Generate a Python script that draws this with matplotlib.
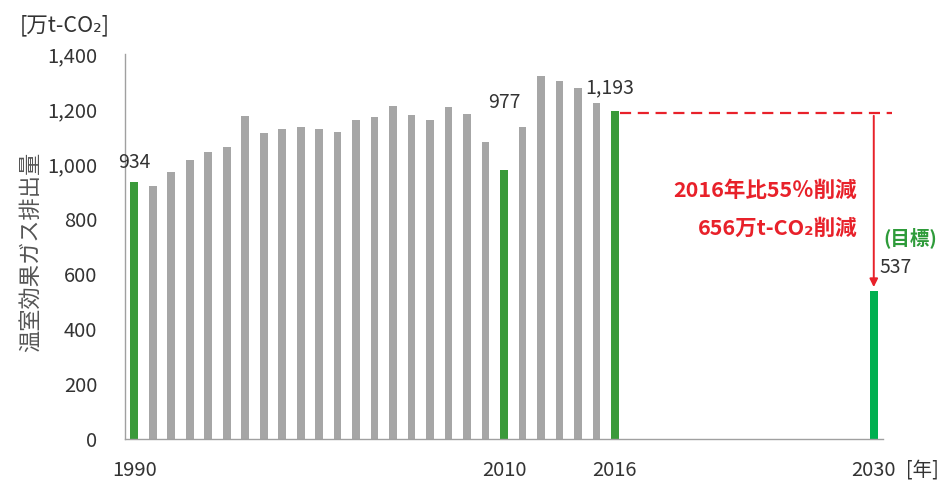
import matplotlib
matplotlib.use('Agg')
import matplotlib.pyplot as plt

plt.rcParams['font.family'] = ['Noto Sans CJK JP', 'DejaVu Sans']

# emissions by year (万t-CO2)
years = list(range(1990, 2017))
emissions = [934, 918, 971, 1013, 1042, 1063, 1173, 1113, 1126, 1133,
             1126, 1116, 1159, 1169, 1212, 1179, 1159, 1207, 1181, 1079,
             977, 1135, 1321, 1303, 1275, 1221, 1193]
highlight_years = [1990, 2010, 2016]
target_year = 2030
target_value = 537
tick_years = [1990, 2010, 2016, 2030]
ytick_values = [0, 200, 400, 600, 800, 1000, 1200, 1400]

fig = plt.figure(figsize=(9.44, 4.82), dpi=100)
ax = fig.add_axes([0.1324, 0.0892, 0.8030, 0.7990])

colors = ['#3A9A3A' if y in highlight_years else '#A6A6A6' for y in years]
ax.bar(years, emissions, width=0.42, color=colors)
ax.bar([target_year], [target_value], width=0.42, color='#00B050')

# value labels
lookup = dict(zip(years, emissions))
ax.text(1990, lookup[1990] + 72, '934', ha='center', va='center', fontsize=14, color='#333333')
ax.text(2010, lookup[2010] + 245, '977', ha='center', va='center', fontsize=14, color='#333333')
ax.text(2015.7, lookup[2016] + 83, '1,193', ha='center', va='center', fontsize=14, color='#333333')
ax.text(2030.3, target_value + 88, '537', ha='left', va='center', fontsize=14, color='#333333')
ax.text(2030.5, target_value + 195, '(目標)', ha='left', va='center', fontsize=14,
        color='#2E9B3A', fontweight='bold')

# reduction annotation
ax.plot([2016.3, 2031.0], [lookup[2016] - 8, lookup[2016] - 8], color='#E8212A',
        linestyle=(0, (5, 3)), linewidth=1.6, clip_on=False)
ax.annotate('', xy=(target_year, target_value + 5), xytext=(target_year, lookup[2016] - 8),
            arrowprops=dict(arrowstyle='-|>', color='#E8212A', lw=1.4, mutation_scale=12))
ax.text(2029.1, 905, '2016年比55％削減', ha='right', va='center', fontsize=15.5,
        color='#E8212A', fontweight='bold')
ax.text(2029.1, 765, '656万t-CO₂削減', ha='right', va='center', fontsize=15.5,
        color='#E8212A', fontweight='bold')

ax.set_xlim(1989.5, 2030.5)
ax.set_ylim(0, 1400)
ax.set_xticks(tick_years)
ax.set_xticklabels([str(t) for t in tick_years])
ax.set_yticks(ytick_values)
ax.set_yticklabels([f'{v:,}' for v in ytick_values])
ax.tick_params(axis='both', length=0, labelsize=14.5, labelcolor='#333333')
ax.tick_params(axis='y', pad=20)
ax.tick_params(axis='x', pad=15)

for side in ['top', 'right']:
    ax.spines[side].set_visible(False)
for side in ['left', 'bottom']:
    ax.spines[side].set_color('#A0A0A0')
    ax.spines[side].set_linewidth(1.0)

fig.text(20 / 944, 1 - 25 / 482, '[万t-CO₂]', ha='left', va='center', fontsize=15.5, color='#333333')
fig.text(906 / 944, 1 - 470 / 482, '[年]', ha='left', va='center', fontsize=14, color='#333333')
fig.text(30 / 944, 1 - 252 / 482, '温室効果ガス排出量', rotation=90, ha='center', va='center',
         fontsize=16, color='#555555')

fig.savefig('out.png', dpi=100)
